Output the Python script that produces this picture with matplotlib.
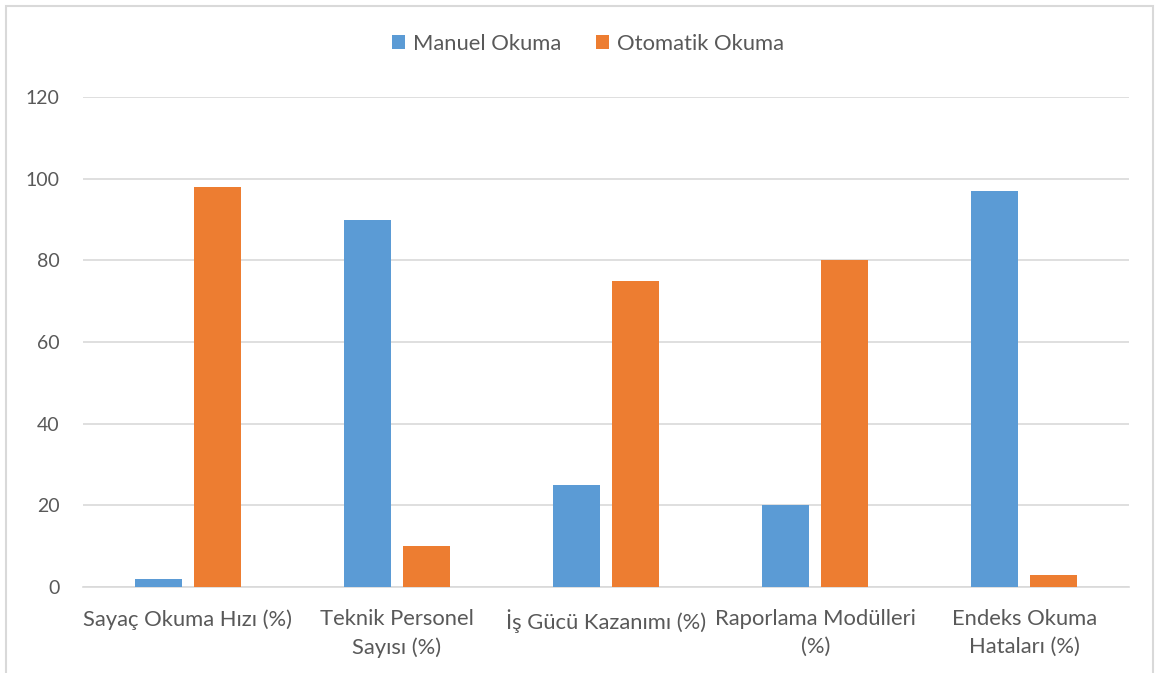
import matplotlib.pyplot as plt
import numpy as np
from matplotlib.patches import Rectangle

# === DATOS ===
categories = ["Sayaç Okuma Hızı (%)", "Teknik Personel\nSayısı (%)", "İş Gücü Kazanımı (%)",
              "Raporlama Modülleri\n(%)", "Endeks Okuma\nHataları (%)"]
manuel = [2, 90, 25, 20, 97]
otomatik = [98, 10, 75, 80, 3]
series_names = ["Manuel Okuma", "Otomatik Okuma"]
yticks = [0, 20, 40, 60, 80, 100, 120]

BLUE = "#5B9BD5"
ORANGE = "#ED7D31"
TEXT = "#595959"
GRID = "#D9D9D9"

plt.rcParams['font.family'] = ['Lato', 'DejaVu Sans']

W, H = 1159, 673
fig = plt.figure(figsize=(W / 100, H / 100), dpi=100)
ax = fig.add_axes([83 / W, (H - 587) / H, (1129 - 83) / W, (587 - 97) / H])

# borde del gráfico
fig.patches.append(Rectangle((6 / W, -0.01), (1153 - 6) / W, (H - 6) / H + 0.01,
                             transform=fig.transFigure, fill=False,
                             edgecolor=GRID, linewidth=1.5))

x = np.arange(len(categories))
bw = 0.225
gap = 0.057
ax.bar(x - (bw + gap) / 2, manuel, bw, color=BLUE, label=series_names[0], zorder=3)
ax.bar(x + (bw + gap) / 2, otomatik, bw, color=ORANGE, label=series_names[1], zorder=3)

ax.set_xlim(-0.5, len(categories) - 0.5)
ax.set_ylim(0, 120)
ax.set_yticks(yticks)
ax.set_xticks(x)
ax.set_xticklabels(categories, fontsize=15.8, color=TEXT, linespacing=1.5)
ax.tick_params(axis='y', labelsize=14, labelcolor=TEXT, length=0, pad=17)
ax.tick_params(axis='x', length=0, pad=16)
ax.grid(axis='y', color=GRID, linewidth=1.2, zorder=0)
for s in ["top", "right", "left"]:
    ax.spines[s].set_visible(False)
ax.spines["bottom"].set_color(GRID)
ax.spines["bottom"].set_linewidth(1.2)

fig.legend(loc='center', bbox_to_anchor=(588 / W, (H - 44) / H), ncol=2, frameon=False,
           fontsize=15.8, labelcolor=TEXT, handlelength=0.6, handleheight=0.6,
           handletextpad=0.35, columnspacing=1.6)

plt.savefig("out.png", dpi=100)
